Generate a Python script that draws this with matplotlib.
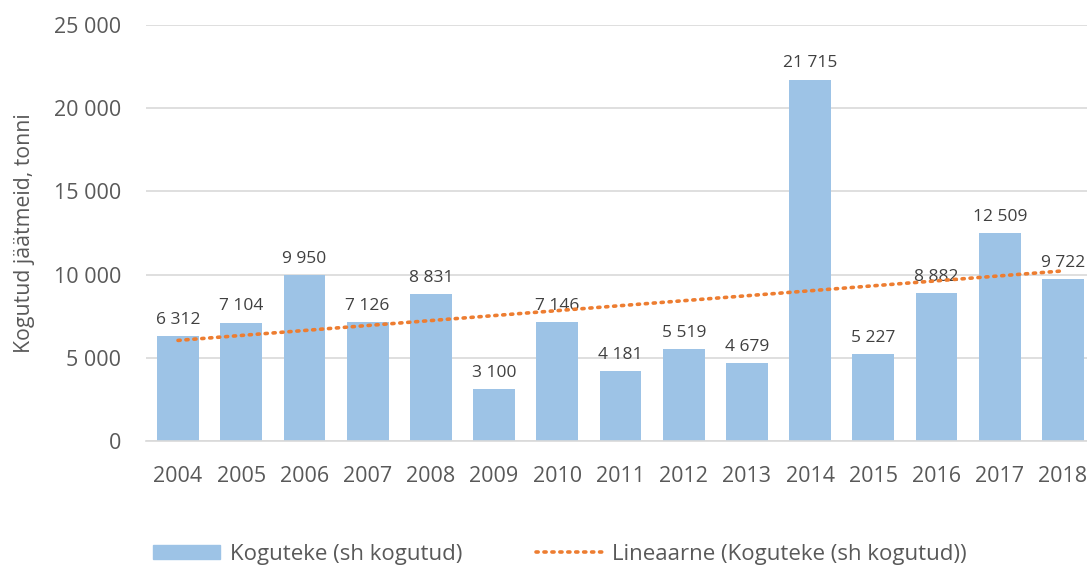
import matplotlib
matplotlib.use("Agg")
import matplotlib.pyplot as plt
import numpy as np
from matplotlib.patches import Patch
from matplotlib.lines import Line2D

years = ["2004", "2005", "2006", "2007", "2008", "2009", "2010", "2011",
         "2012", "2013", "2014", "2015", "2016", "2017", "2018"]
values = [6312, 7104, 9950, 7126, 8831, 3100, 7146, 4181,
          5519, 4679, 21715, 5227, 8882, 12509, 9722]
yticks = [0, 5000, 10000, 15000, 20000, 25000]
bar_label = "Koguteke (sh kogutud)"
trend_label = "Lineaarne (Koguteke (sh kogutud))"
ylabel = "Kogutud jäätmeid, tonni"

plt.rcParams['font.family'] = ['Open Sans', 'DejaVu Sans']
BAR = '#9DC3E6'
ORANGE = '#ED7D31'
TXT = '#595959'

def fmt(v):
    return f"{v:,}".replace(",", " ")

fig = plt.figure(figsize=(10.87, 5.66), dpi=100)
ax = fig.add_axes([146.4/1087, 125/566, 948.2/1087, 416/566])

x = np.arange(len(years))
ax.bar(x, values, width=0.66, color=BAR, zorder=2)
for xi, v in zip(x, values):
    ax.annotate(fmt(v), (xi, v), xytext=(0, 6), textcoords='offset points',
                ha='center', va='bottom', fontsize=12.5, color='#404040')

coef = np.polyfit(x, values, 1)
trend = np.polyval(coef, x)
ax.plot(x, trend, color=ORANGE, lw=2.6, linestyle=(0, (0.6, 1.6)),
        dash_capstyle='round', zorder=3)

ax.set_xlim(-0.5, len(years) - 0.5)
ax.set_ylim(0, 25000)
ax.set_yticks(yticks)
ax.set_yticklabels([fmt(t) for t in yticks])
ax.set_xticks(x)
ax.set_xticklabels(years)
ax.tick_params(axis='both', length=0, labelsize=15.5, colors=TXT)
ax.tick_params(axis='y', pad=18)
ax.tick_params(axis='x', pad=18)
ax.yaxis.grid(True, color='#D9D9D9', lw=1.2, zorder=0)
ax.set_axisbelow(True)
for s in ['top', 'right', 'left']:
    ax.spines[s].set_visible(False)
ax.spines['bottom'].set_color('#D9D9D9')
ax.spines['bottom'].set_linewidth(1.2)
ax.set_ylabel(ylabel, fontsize=15.3, color=TXT, labelpad=14)

handles = [Patch(color=BAR, label=bar_label),
           Line2D([0], [0], color=ORANGE, lw=2.6, linestyle=(0, (0.6, 1.6)),
                  dash_capstyle='round', label=trend_label)]
fig.legend(handles=handles, loc='lower center', bbox_to_anchor=(560/1087, -0.033),
           ncol=2, frameon=False, fontsize=16, labelcolor=TXT,
           handlelength=3.0, handleheight=0.55, columnspacing=3.3, handletextpad=0.45)

fig.savefig("out.png", dpi=100)
